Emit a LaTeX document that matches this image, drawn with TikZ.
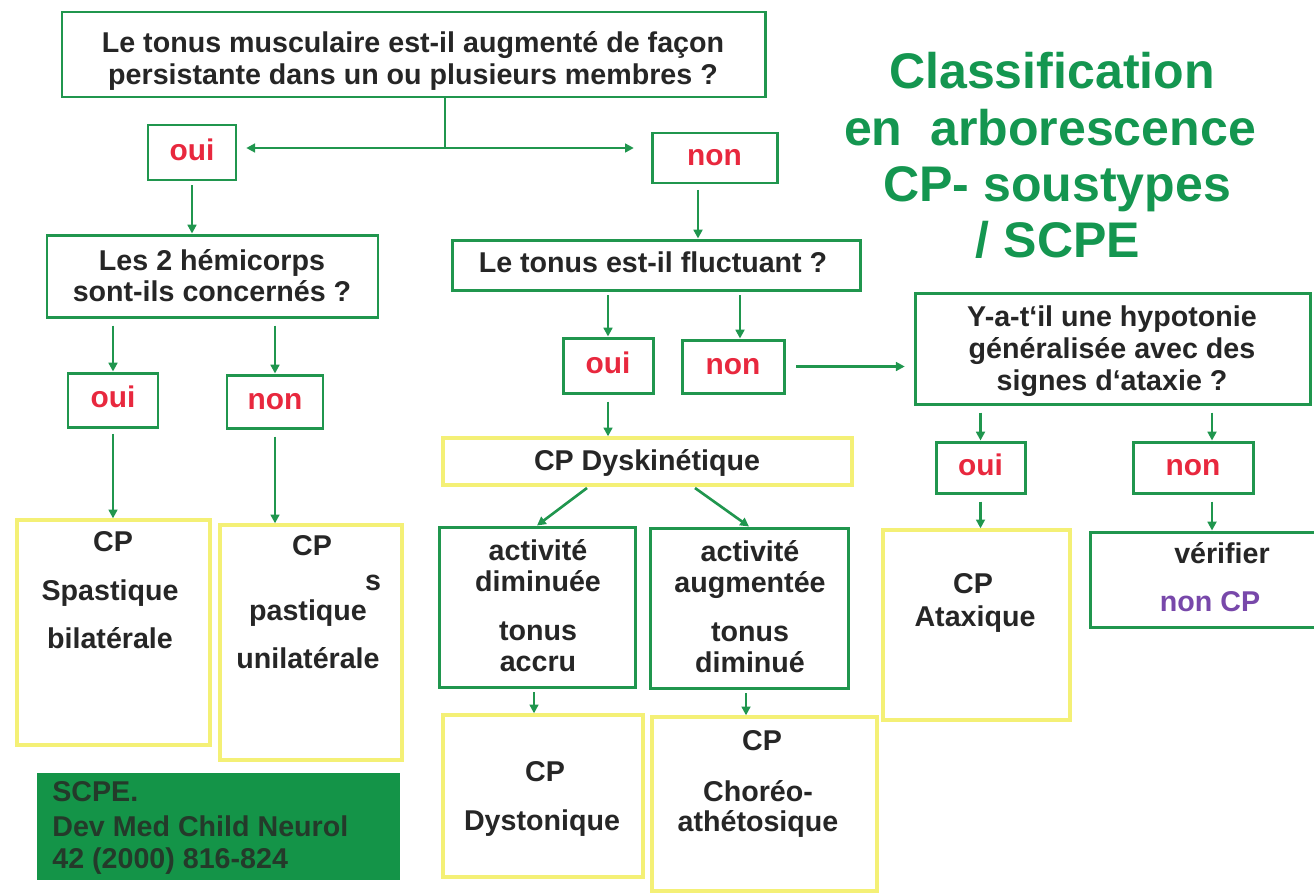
\documentclass[tikz,border=0pt]{standalone}
\usepackage{fontspec}
\setmainfont{Liberation Sans}
\usetikzlibrary{arrows.meta,fit}
\definecolor{bgreen}{RGB}{32,150,78}
\definecolor{tgreen}{RGB}{20,150,80}
\definecolor{byellow}{RGB}{244,240,118}
\definecolor{tgray}{RGB}{38,38,38}
\definecolor{ansred}{RGB}{232,40,62}
\definecolor{npurple}{RGB}{120,72,170}
\definecolor{reffill}{RGB}{20,148,72}
\definecolor{reftext}{RGB}{36,58,42}
\begin{document}
\begin{tikzpicture}[x=0.02cm,y=-0.02cm,
  gbox/.style={draw=bgreen, line width=1.7pt, inner sep=0pt},
  ybox/.style={draw=byellow, line width=1.9pt, inner sep=0pt},
  refbox/.style={fill=reffill, draw=none, inner sep=0pt},
  txt/.style={anchor=base, inner sep=0pt, text=tgray, font=\fontsize{16.3}{18}\selectfont\bfseries},
  anst/.style={anchor=base, yshift=-4.5pt, inner sep=0pt, text=ansred, font=\fontsize{17}{19}\selectfont\bfseries},
  ttl/.style={anchor=base, inner sep=0pt, text=tgreen, font=\fontsize{28.5}{32}\selectfont\bfseries},
  reft/.style={anchor=base west, inner sep=0pt, text=reftext, font=\fontsize{16.3}{18}\selectfont\bfseries},
  conn/.style={draw=bgreen, line width=1.5pt},
  arr/.style={draw=bgreen, line width=1.5pt, -{Triangle[length=5pt,width=5pt]}}]
\useasboundingbox (0,0) rectangle (1314,893);

% title
\node[ttl] (ti1) at (1052,88) {Classification};
\node[ttl] (ti2) at (1050,145) {en\ \ arborescence};
\node[ttl] (ti3) at (1057,201) {CP- soustypes};
\node[ttl] (ti4) at (1058,257) {/ SCPE};

% top question
\node[gbox, fit={(62,12) (765,97)}] (q1) {};
\node[txt] (q1a) at (413,52) {Le tonus musculaire est-il augmenté de façon};
\node[txt] (q1b) at (413,84) {persistante dans un ou plusieurs membres ?};

\node[gbox, fit={(148,125) (236,180)}] (oui1) {};
\node[anst] (oui1t) at (oui1.center) {oui};
\node[gbox, fit={(652,133) (777,183)}] (non1) {};
\node[anst] (non1t) at (non1.center) {non};

\coordinate (j1) at (445,148);
\draw[conn] (q1.south -| j1) -- (j1);
\draw[arr, shorten >=5pt] (j1) -- (j1 -| oui1.east);
\draw[arr, shorten >=9.5pt] (j1) -- (j1 -| non1.west);

% left branch
\node[gbox, fit={(47,235) (378,317)}] (hemi) {};
\node[txt] (hemia) at (212,270) {Les 2 hémicorps};
\node[txt] (hemib) at (212,301) {sont-ils concernés ?};
\draw[arr, shorten <=2pt] (oui1.south) -- (oui1.south |- hemi.north);

\node[gbox, fit={(68,373) (158,427)}] (oui2) {};
\node[anst] (oui2t) at (oui2.center) {oui};
\node[gbox, fit={(227,375) (323,428)}] (non2) {};
\node[anst] (non2t) at (non2.center) {non};
\draw[arr, shorten <=4pt] (oui2.north |- hemi.south) -- (oui2.north);
\draw[arr, shorten <=4pt] (non2.north |- hemi.south) -- (non2.north);

\node[ybox, fit={(17,520) (210,745)}] (spast) {};
\node[txt] (spa) at (113,551) {CP};
\node[txt] (spb) at (110,600) {Spastique};
\node[txt] (spc) at (110,648) {bilatérale};
\node[ybox, fit={(220,525) (402,760)}] (uni) {};
\node[txt] (una) at (312,555) {CP};
\node[txt] (unb) at (373,590) {s};
\node[txt] (unc) at (308,620) {pastique};
\node[txt] (und) at (308,668) {unilatérale};
\draw[arr, shorten <=3pt] (oui2.south) -- (oui2.south |- spast.north);
\draw[arr, shorten <=4pt] (non2.south) -- (non2.south |- uni.north);

\node[refbox, fit={(37,773) (400,880)}] (ref) {};
\node[reft] (refa) at (52,801) {SCPE.};
\node[reft] (refb) at (52,836) {Dev Med Child Neurol};
\node[reft] (refc) at (52,868) {42 (2000) 816-824};

% middle branch
\node[gbox, fit={(452,240) (860,290)}] (fluct) {};
\node[txt] (flt) at (653,272) {Le tonus est-il fluctuant ?};
\coordinate (n1x) at (698,0);
\draw[arr, shorten <=3pt] (n1x |- non1.south) -- (n1x |- fluct.north);

\node[gbox, fit={(563,338) (653,393)}] (oui3) {};
\node[anst] (oui3t) at (oui3.center) {oui};
\node[gbox, fit={(682,340) (784,393)}] (non3) {};
\node[anst] (non3t) at (non3.center) {non};
\coordinate (n3x) at (740,0);
\draw[arr, shorten <=2pt] (oui3.north |- fluct.south) -- (oui3.north);
\draw[arr, shorten <=2pt] (n3x |- fluct.south) -- (n3x |- non3.north);

\node[ybox, fit={(443,438) (852,485)}] (dysk) {};
\node[txt] (dyt) at (647,470) {CP Dyskinétique};
\draw[arr, shorten <=4pt] (oui3.south) -- (oui3.south |- dysk.north);

\node[gbox, fit={(439,527) (635,687)}] (act1) {};
\node[txt] (a1a) at (538,560) {activité};
\node[txt] (a1b) at (538,591) {diminuée};
\node[txt] (a1c) at (538,640) {tonus};
\node[txt] (a1d) at (538,671) {accru};
\node[gbox, fit={(650,528) (848,688)}] (act2) {};
\node[txt] (a2a) at (750,561) {activité};
\node[txt] (a2b) at (750,592) {augmentée};
\node[txt] (a2c) at (750,641) {tonus};
\node[txt] (a2d) at (750,672) {diminué};
\coordinate (d1) at (587,488);
\coordinate (d2) at (695,488);
\draw[arr] (d1) -- (act1.north);
\draw[arr] (d2) -- (act2.north);

\node[ybox, fit={(443,715) (643,877)}] (dyst) {};
\node[txt] (dsa) at (545,781) {CP};
\node[txt] (dsb) at (542,830) {Dystonique};
\node[ybox, fit={(652,717) (877,891)}] (chor) {};
\node[txt] (cha) at (762,750) {CP};
\node[txt] (chb) at (758,801) {Choréo-};
\node[txt] (chc) at (758,831) {athétosique};
\coordinate (a1x) at (534,0);
\coordinate (a2x) at (746,0);
\draw[arr, shorten <=2pt] (a1x |- act1.south) -- (a1x |- dyst.north);
\draw[arr, shorten <=2pt] (a2x |- act2.south) -- (a2x |- chor.north);

% right branch
\node[gbox, fit={(915,293) (1310,404)}] (hypo) {};
\node[txt] (hya) at (1112,326) {Y-a-t‘il une hypotonie};
\node[txt] (hyb) at (1112,358) {généralisée avec des};
\node[txt] (hyc) at (1112,390) {signes d‘ataxie ?};
\draw[arr, shorten <=6pt, shorten >=5pt] (non3.east) -- (non3.east -| hypo.west);

\node[gbox, fit={(936,442) (1025,493)}] (oui4) {};
\node[anst] (oui4t) at (oui4.center) {oui};
\node[gbox, fit={(1133,442) (1253,493)}] (non4) {};
\node[anst] (non4t) at (non4.center) {non};
\coordinate (n4x) at (1212,0);
\draw[arr, shorten <=4pt] (oui4.north |- hypo.south) -- (oui4.north);
\draw[arr, shorten <=4pt] (n4x |- hypo.south) -- (n4x |- non4.north);

\node[ybox, fit={(883,530) (1070,720)}] (atax) {};
\node[txt] (ata) at (973,593) {CP};
\node[txt] (atb) at (975,626) {Ataxique};
\node[gbox, fit={(1090,532) (1325,627)}] (verif) {};
\node[txt] (vea) at (1222,563) {vérifier};
\node[txt, text=npurple] (veb) at (1210,611) {non CP};
\draw[arr, shorten <=4pt] (oui4.south) -- (oui4.south |- atax.north);
\draw[arr, shorten <=4pt] (n4x |- non4.south) -- (n4x |- verif.north);
\end{tikzpicture}
\end{document}
